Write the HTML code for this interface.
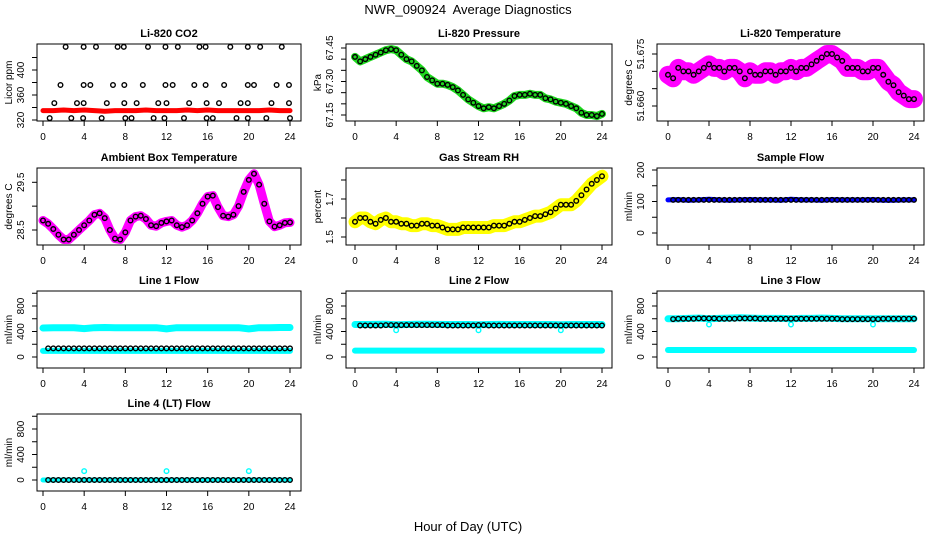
<!DOCTYPE html>
<html><head><meta charset="utf-8">
<style>
html,body{margin:0;padding:0;background:#fff;}
svg{display:block;font-family:"Liberation Sans",Arial,sans-serif;}
</style></head>
<body>
<svg id="chart" width="936" height="540" viewBox="0 0 936 540" xmlns="http://www.w3.org/2000/svg">
<rect width="936" height="540" fill="#fff"/>
<text x="468" y="14" text-anchor="middle" font-size="13">NWR_090924&#160; Average Diagnostics</text>
<text x="468" y="531" text-anchor="middle" font-size="13">Hour of Day (UTC)</text>
</svg>
<script>
// ---- data ----
const hours = [0,0.5,1,1.5,2,2.5,3,3.5,4,4.5,5,5.5,6,6.5,7,7.5,8,8.5,9,9.5,10,10.5,11,11.5,12,12.5,13,13.5,14,14.5,15,15.5,16,16.5,17,17.5,18,18.5,19,19.5,20,20.5,21,21.5,22,22.5,23,23.5,24];
const hourly = [0,1,2,3,4,5,6,7,8,9,10,11,12,13,14,15,16,17,18,19,20,21,22,23,24];
const xTicks = [0,4,8,12,16,20,24];

const co2Red = [335,335,336,335,336,335,334,335,335,335,336,335,335,335,336,335,336,335,335,335,335,335,336,335,335];
const co2BlackHours = [2.2,3.95,5.15,7.25,7.85,10.2,11.9,13.1,15.2,15.8,18.2,19.9,21.1,23.2,
 1.7,3.95,4.6,6.8,7.9,9.7,11.9,12.6,14.7,15.8,17.6,19.9,20.5,22.7,23.9,
 1.1,3.3,3.95,6.2,7.9,9.1,11.2,12.0,14.2,15.9,17.1,19.2,19.9,22.2,23.9,
 0.65,2.75,3.9,5.7,8.0,8.6,10.75,11.8,13.7,15.9,16.5,18.8,19.9,21.7,24.0];
const co2BlackValues = [437,437,437,437,437,437,437,437,437,437,437,437,437,437,
 376,376,376,376,376,376,376,376,376,376,376,376,376,376,376,
 347,347,347,347,347,347,347,347,347,347,347,347,347,347,347,
 323,323,323,323,323,323,323,323,323,323,323,323,323,323,323];

const pressure = [67.41,67.39,67.40,67.41,67.42,67.43,67.44,67.445,67.44,67.42,67.40,67.39,67.37,67.35,67.32,67.305,67.29,67.29,67.285,67.275,67.26,67.24,67.22,67.205,67.19,67.18,67.185,67.18,67.19,67.20,67.215,67.235,67.24,67.24,67.245,67.24,67.24,67.225,67.22,67.21,67.205,67.20,67.19,67.18,67.16,67.15,67.15,67.145,67.155];

const licorTemp = [51.669,51.668,51.671,51.670,51.670,51.669,51.670,51.671,51.672,51.671,51.671,51.670,51.671,51.671,51.670,51.668,51.670,51.669,51.669,51.670,51.670,51.669,51.670,51.670,51.671,51.670,51.671,51.671,51.672,51.673,51.674,51.675,51.675,51.674,51.673,51.671,51.671,51.671,51.670,51.670,51.671,51.671,51.669,51.667,51.666,51.664,51.663,51.662,51.662];

const ambientTemp = [28.70,28.63,28.52,28.40,28.30,28.30,28.40,28.50,28.60,28.70,28.82,28.85,28.75,28.50,28.32,28.30,28.45,28.70,28.78,28.80,28.73,28.60,28.58,28.65,28.68,28.70,28.60,28.56,28.60,28.70,28.85,29.05,29.20,29.22,28.98,28.80,28.78,28.82,29.00,29.30,29.55,29.68,29.45,29.05,28.68,28.57,28.60,28.65,28.66];

const gasRH = [1.58,1.60,1.60,1.58,1.57,1.59,1.60,1.58,1.58,1.57,1.57,1.56,1.56,1.57,1.57,1.56,1.56,1.55,1.54,1.54,1.54,1.55,1.55,1.55,1.55,1.55,1.55,1.56,1.56,1.56,1.57,1.58,1.58,1.59,1.60,1.61,1.61,1.62,1.63,1.65,1.67,1.67,1.67,1.69,1.72,1.75,1.78,1.80,1.82];

const sampleBlue = [105,106,104,105,107,105,104,105,106,105,105,104,107,105,105,104,106,105,105,105,106,104,104,105,105];
const sampleBlack = [105,105,105,105,105,105,105,105,105,105,105,105,105,105,105,105,105,105,105,105,105,105,105,105,105];

const line1CyanHigh = [455,458,460,458,445,460,462,460,458,460,458,460,440,460,458,460,458,460,458,460,440,460,458,462,462];
const line1CyanLow  = [95,95,95,95,95,95,95,95,95,95,95,95,95,95,95,95,95,95,95,95,95,95,95,95,95];
const line1Black    = [135,135,135,135,135,135,135,135,135,135,135,135,135,135,135,135,135,135,135,135,135,135,135,135,135];

const line2CyanHigh = [510,510,512,515,505,510,515,515,512,510,510,510,505,510,512,510,510,510,510,510,505,510,510,510,510];
const line2CyanLow  = [100,100,100,100,100,100,100,100,100,100,100,100,100,100,100,100,100,100,100,100,100,100,100,100,100];
const line2Black    = [495,495,495,500,500,500,500,500,500,495,495,495,500,495,495,495,495,495,495,495,495,495,495,495,495];

const line3CyanHigh = [600,600,605,610,600,605,610,615,610,605,605,605,600,605,605,610,605,600,600,600,600,600,600,600,600];
const line3CyanLow  = [110,110,110,110,110,110,110,110,110,110,110,110,110,110,110,110,110,110,110,110,110,110,110,110,110];
const line3Black    = [595,600,600,605,605,600,600,605,605,600,600,600,600,600,600,600,600,595,595,595,595,600,600,600,600];

const line4Cyan  = [0,0,0,0,0,0,0,0,0,0,0,0,0,0,0,0,0,0,0,0,0,0,0,0,0];
const line4Black = [0,0,0,0,0,0,0,0,0,0,0,0,0,0,0,0,0,0,0,0,0,0,0,0,0];

const cyanDipHours = [4,12,20];
const line1Dips = [440,440,440];
const line2Dips = [420,420,420];
const line3Dips = [510,510,510];
const line4Spikes = [140,140,140];

// ---- drawing ----
const NS = 'http://www.w3.org/2000/svg';
const svg = document.getElementById('chart');
const cols = [{l:37,r:301,x0:43,x24:290},{l:346,r:612,x0:355,x24:602},{l:657,r:924,x0:668,x24:914}];
const rowTops = [44,168,291,414];

function mk(tag, attrs, parent){
  const e = document.createElementNS(NS, tag);
  for (const k in attrs) e.setAttribute(k, attrs[k]);
  (parent||svg).appendChild(e);
  return e;
}

function panel(p){
  const c = cols[p.col], top = rowTops[p.row], bot = top + 77;
  const g = mk('g', {});
  
  
  const xs = h => c.x0 + h * (c.x24 - c.x0) / 24;
  const ys = v => (top + p.y1) + (v - p.v1) * ((p.y2 - p.y1) / (p.v2 - p.v1));
  const frame = mk('rect', {x:c.l, y:top, width:c.r-c.l, height:77, fill:'none', stroke:'#000', 'stroke-width':1}, g);
  
  
  const t = mk('text', {x:(c.l+c.r)/2, y:top-7, 'text-anchor':'middle', 'font-size':11, 'font-weight':'bold'}, g);
  t.textContent = p.title;
  
  
  xTicks.forEach(h => {
    mk('line', {x1:xs(h), x2:xs(h), y1:bot, y2:bot+5, stroke:'#000'}, g);
    const lb = mk('text', {x:xs(h), y:bot+19, 'text-anchor':'middle', 'font-size':10}, g);
    lb.textContent = h;
    
    
  });
  p.ticks.forEach(v => {
    mk('line', {x1:c.l, x2:c.l-5, y1:ys(v), y2:ys(v), stroke:'#000'}, g);
  });
  p.labels.forEach((v, i) => {
    const x = c.l - 13, y = ys(v);
    const lb = mk('text', {x:x, y:y, 'text-anchor':'middle', 'font-size':10, transform:'rotate(-90 '+x+' '+y+')'}, g);
    lb.textContent = p.labelText[i];
    
    
  });
  const yl = mk('text', {x:c.l-25, y:(top+bot)/2, 'text-anchor':'middle', 'font-size':10, transform:'rotate(-90 '+(c.l-25)+' '+((top+bot)/2)+')'}, g);
  yl.textContent = p.ylabel;
  
  
  const clipId = 'clip-' + p.name;
  const cp = mk('clipPath', {id:clipId}, g);
  mk('rect', {x:c.l, y:top, width:c.r-c.l, height:77}, cp);
  const dg = mk('g', {'clip-path':'url(#'+clipId+')'}, g);
  
  
  return {xs, ys, g:dg};
}

function band(P, hs, vs, color, w, name){
  const pts = hs.map((h,i) => P.xs(h).toFixed(1)+','+P.ys(vs[i]).toFixed(1)).join(' ');
  const pl = mk('polyline', {points:pts, fill:'none', stroke:color, 'stroke-width':w, 'stroke-linejoin':'round', 'stroke-linecap':'round'}, P.g);
  
  
}
function dots(P, hs, vs, color, name){
  hs.forEach((h,i) => {
    const c = mk('circle', {cx:P.xs(h), cy:P.ys(vs[i]), r:2.3, fill:'none', stroke:color, 'stroke-width':1.4}, P.g);
    
    
  });
}

const flowTicks = [0,200,400,600,800,1000];
const flowCfg = (name, col, row, title) => ({name, col, row, title, ylabel:'ml/min', v1:0, y1:66, v2:800, y2:15, ticks:flowTicks, labels:[0,400,800], labelText:['0','400','800']});

let P = panel({name:'co2', col:0, row:0, title:'Li-820 CO2', ylabel:'Licor ppm', v1:320, y1:76, v2:400, y2:26, ticks:[320,340,360,380,400,420], labels:[320,360,400], labelText:['320','360','400']});
band(P, hourly, co2Red, '#f00', 5, 'co2-minute-series');
dots(P, co2BlackHours, co2BlackValues, '#000', 'co2-average-point');

P = panel({name:'pressure', col:1, row:0, title:'Li-820 Pressure', ylabel:'kPa', v1:67.45, y1:4, v2:67.15, y2:71, ticks:[67.15,67.2,67.25,67.3,67.35,67.4,67.45], labels:[67.15,67.30,67.45], labelText:['67.15','67.30','67.45']});
band(P, hours, pressure, '#1ed81e', 8, 'pressure-minute-series');
dots(P, hours, pressure, '#000', 'pressure-average-point');

P = panel({name:'licor-temperature', col:2, row:0, title:'Li-820 Temperature', ylabel:'degrees C', v1:51.675, y1:10, v2:51.660, y2:62, ticks:[51.660,51.665,51.670,51.675], labels:[51.660,51.675], labelText:['51.660','51.675']});
band(P, hours, licorTemp, '#f0f', 18, 'licor-temperature-minute-series');
dots(P, hours, licorTemp, '#000', 'licor-temperature-average-point');

P = panel({name:'ambient-temperature', col:0, row:1, title:'Ambient Box Temperature', ylabel:'degrees C', v1:29.5, y1:14.3, v2:28.5, y2:62, ticks:[28.5,29.0,29.5], labels:[28.5,29.5], labelText:['28.5','29.5']});
band(P, hours, ambientTemp, '#f0f', 9, 'ambient-temperature-minute-series');
dots(P, hours, ambientTemp, '#000', 'ambient-temperature-average-point');

P = panel({name:'gas-rh', col:1, row:1, title:'Gas Stream RH', ylabel:'percent', v1:1.7, y1:31, v2:1.5, y2:69, ticks:[1.5,1.6,1.7,1.8], labels:[1.5,1.7], labelText:['1.5','1.7']});
band(P, hours, gasRH, '#ff0', 13, 'gas-rh-minute-series');
dots(P, hours, gasRH, '#000', 'gas-rh-average-point');

P = panel({name:'sample-flow', col:2, row:1, title:'Sample Flow', ylabel:'ml/min', v1:0, y1:65, v2:200, y2:2, ticks:[0,50,100,150,200], labels:[0,100,200], labelText:['0','100','200']});
band(P, hourly, sampleBlue, '#00f', 5, 'sample-flow-minute-series');
dots(P, hours.slice(1), hours.slice(1).map(h => sampleBlack[Math.floor(h)]), '#000', 'sample-flow-average-point');

function flowPanel(cfg, hi, lo, blk, dipVals){
  const Q = panel(cfg);
  band(Q, hourly, hi, '#0ff', 7, cfg.name + '-cyan-high');
  band(Q, hourly, lo, '#0ff', 6, cfg.name + '-cyan-low');
  dots(Q, cyanDipHours, dipVals, '#0ff', cfg.name + '-cyan-point');
  const bh = hours.slice(1);
  dots(Q, bh, bh.map(h => blk[Math.floor(h)]), '#000', cfg.name + '-average-point');
}
flowPanel(flowCfg('line1-flow',0,2,'Line 1 Flow'), line1CyanHigh, line1CyanLow, line1Black, line1Dips);
flowPanel(flowCfg('line2-flow',1,2,'Line 2 Flow'), line2CyanHigh, line2CyanLow, line2Black, line2Dips);
flowPanel(flowCfg('line3-flow',2,2,'Line 3 Flow'), line3CyanHigh, line3CyanLow, line3Black, line3Dips);
P = panel(flowCfg('line4-flow',0,3,'Line 4 (LT) Flow'));
band(P, hourly, line4Cyan, '#0ff', 5, 'line4-flow-cyan');
dots(P, cyanDipHours, line4Spikes, '#0ff', 'line4-flow-cyan-point');
dots(P, hours.slice(1), hours.slice(1).map(h => line4Black[Math.floor(h)]), '#000', 'line4-flow-average-point');
</script>
</body></html>
